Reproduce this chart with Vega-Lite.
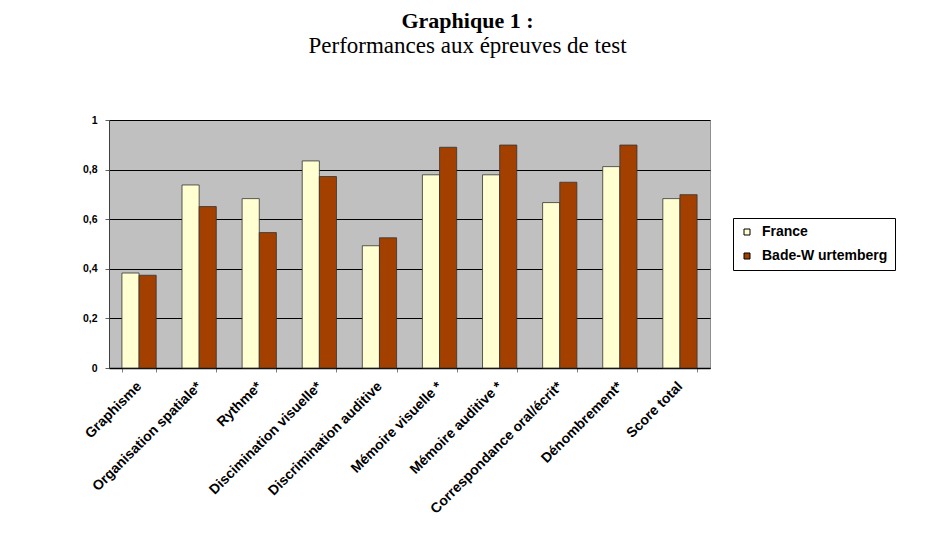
{
  "$schema": "https://vega.github.io/schema/vega-lite/v6.json",
  "autosize": {"type": "none"},
  "width": 601,
  "height": 248,
  "padding": {"left": 109, "top": 120, "right": 227, "bottom": 187},
  "background": "white",
  "title": {
    "text": "Graphique 1 :",
    "subtitle": "Performances aux épreuves de test",
    "anchor": "middle",
    "dx": 58,
    "offset": 56,
    "font": "Liberation Serif",
    "fontSize": 22,
    "fontWeight": "bold",
    "color": "black",
    "subtitleFont": "Liberation Serif",
    "subtitleFontSize": 23,
    "subtitleFontWeight": "normal",
    "subtitleColor": "black",
    "subtitlePadding": 2
  },
  "data": {
    "values": [
      {"test": "Graphisme", "pays": "France", "valeur": 0.383},
      {"test": "Graphisme", "pays": "Bade-W urtemberg", "valeur": 0.374},
      {"test": "Organisation spatiale*", "pays": "France", "valeur": 0.738},
      {"test": "Organisation spatiale*", "pays": "Bade-W urtemberg", "valeur": 0.651},
      {"test": "Rythme*", "pays": "France", "valeur": 0.683},
      {"test": "Rythme*", "pays": "Bade-W urtemberg", "valeur": 0.546},
      {"test": "Discimination visuelle*", "pays": "France", "valeur": 0.835},
      {"test": "Discimination visuelle*", "pays": "Bade-W urtemberg", "valeur": 0.772},
      {"test": "Discrimination auditive", "pays": "France", "valeur": 0.493},
      {"test": "Discrimination auditive", "pays": "Bade-W urtemberg", "valeur": 0.525},
      {"test": "Mémoire visuelle *", "pays": "France", "valeur": 0.779},
      {"test": "Mémoire visuelle *", "pays": "Bade-W urtemberg", "valeur": 0.890},
      {"test": "Mémoire auditive *", "pays": "France", "valeur": 0.779},
      {"test": "Mémoire auditive *", "pays": "Bade-W urtemberg", "valeur": 0.899},
      {"test": "Correspondance oral/écrit*", "pays": "France", "valeur": 0.667},
      {"test": "Correspondance oral/écrit*", "pays": "Bade-W urtemberg", "valeur": 0.749},
      {"test": "Dénombrement*", "pays": "France", "valeur": 0.812},
      {"test": "Dénombrement*", "pays": "Bade-W urtemberg", "valeur": 0.899},
      {"test": "Score total", "pays": "France", "valeur": 0.683},
      {"test": "Score total", "pays": "Bade-W urtemberg", "valeur": 0.699}
    ]
  },
  "mark": {"type": "bar", "stroke": "#333333", "strokeWidth": 0.8},
  "encoding": {
    "x": {
      "field": "test",
      "type": "nominal",
      "sort": null,
      "scale": {"paddingInner": 0.43, "paddingOuter": 0.215},
      "axis": {
        "title": null,
        "labelAngle": -45,
        "labelAlign": "right",
        "labelBaseline": "middle",
        "labelFont": "Liberation Sans",
        "labelFontWeight": "bold",
        "labelFontSize": 14,
        "labelColor": "black",
        "labelPadding": 12,
        "labelDx": -11,
        "labelDy": 9,
        "tickBand": "extent",
        "tickSize": 4,
        "tickColor": "#808080",
        "domainColor": "black",
        "domainWidth": 1.5,
        "grid": false
      }
    },
    "xOffset": {
      "field": "pays",
      "type": "nominal",
      "sort": ["France", "Bade-W urtemberg"],
      "scale": {"paddingInner": 0, "paddingOuter": 0}
    },
    "y": {
      "field": "valeur",
      "type": "quantitative",
      "scale": {"domain": [0, 1], "nice": false},
      "axis": {
        "title": null,
        "values": [0, 0.2, 0.4, 0.6, 0.8, 1],
        "labelExpr": "replace(format(datum.value, '~g'), '.', ',')",
        "labelFont": "Liberation Sans",
        "labelFontWeight": "bold",
        "labelFontSize": 10.5,
        "labelColor": "black",
        "labelPadding": 8,
        "tickSize": 4,
        "tickColor": "#606060",
        "domainColor": "#404040",
        "grid": true,
        "gridColor": "black",
        "gridWidth": 1
      }
    },
    "color": {
      "field": "pays",
      "type": "nominal",
      "sort": ["France", "Bade-W urtemberg"],
      "scale": {"domain": ["France", "Bade-W urtemberg"], "range": ["#FFFFD2", "#A34000"]},
      "legend": {
        "title": null,
        "orient": "none",
        "legendX": 624,
        "legendY": 98,
        "strokeColor": "black",
        "fillColor": "white",
        "padding": 7,
        "symbolType": "square",
        "symbolSize": 36,
        "symbolStrokeColor": "black",
        "symbolStrokeWidth": 1,
        "labelFont": "Liberation Sans",
        "labelFontWeight": "bold",
        "labelFontSize": 14,
        "labelColor": "black",
        "labelOffset": 8,
        "rowPadding": 10
      }
    }
  },
  "config": {
    "view": {"fill": "#C0C0C0", "stroke": "#909090"}
  }
}
